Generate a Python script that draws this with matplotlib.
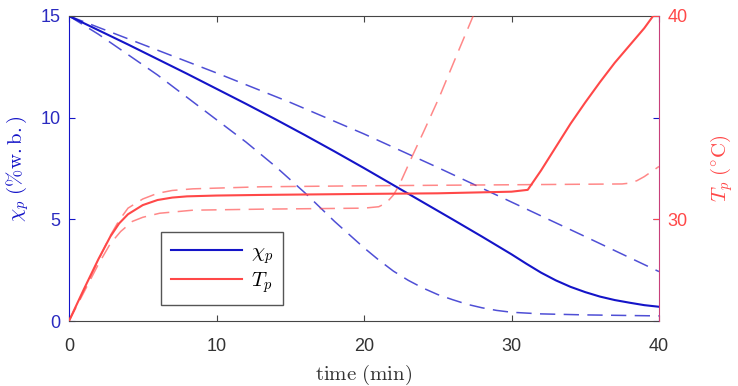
import numpy as np
import matplotlib
matplotlib.use("Agg")
import matplotlib.pyplot as plt

plt.rcParams['font.family'] = ['Liberation Sans', 'DejaVu Sans']
plt.rcParams['mathtext.fontset'] = 'cm'

# moisture content chi_p (% w.b.), left axis
t_chi = [0, 2, 4, 6, 8, 10, 12, 14, 16, 18, 20, 22, 24, 26, 28, 30,
         31, 32, 33, 34, 35, 36, 37, 38, 39, 40]
chi = [15, 14.3, 13.6, 12.88, 12.16, 11.42, 10.68, 9.92, 9.14, 8.34, 7.52,
       6.68, 5.84, 5.0, 4.15, 3.28, 2.82, 2.38, 2.0, 1.68, 1.42, 1.2, 1.03,
       0.9, 0.78, 0.7]

t_chi_hi = [0, 5, 10, 15, 20, 25, 30, 35, 40]
chi_hi = [15, 13.6, 12.2, 10.75, 9.2, 7.55, 5.85, 4.15, 2.43]

t_chi_lo = [0, 2, 4, 6, 8, 10, 12, 14, 16, 18, 20, 21, 22, 23, 24, 25,
            26, 27, 28, 29, 30, 32, 35, 40]
chi_lo = [15, 14.1, 13.1, 12.1, 11.0, 9.9, 8.8, 7.6, 6.3, 4.9, 3.6, 3.0,
          2.45, 2.0, 1.62, 1.3, 1.05, 0.82, 0.65, 0.52, 0.43, 0.35, 0.3,
          0.25]

# product temperature T_p (degC), right axis
t_T = [0, 1, 2, 2.8, 3.4, 4, 5, 6, 7, 8, 10, 13, 20, 25, 30, 31.1, 32,
       33, 34, 35, 36, 37, 38, 39, 39.6]
T = [25, 26.55, 28.05, 29.15, 29.8, 30.25, 30.7, 30.95, 31.07, 31.13,
     31.17, 31.2, 31.25, 31.28, 31.36, 31.45, 32.4, 33.55, 34.7, 35.75,
     36.75, 37.7, 38.55, 39.4, 40]

t_T_hi = [0, 1, 2, 2.8, 3.4, 4, 5, 6, 7, 8.4, 13, 20, 30, 37.5, 38,
          38.5, 39, 39.5, 40]
T_hi = [25, 26.5, 28.0, 29.2, 29.95, 30.55, 31.0, 31.28, 31.42, 31.5,
        31.6, 31.65, 31.7, 31.74, 31.78, 31.9, 32.1, 32.35, 32.6]

t_T_lo = [0, 1, 2, 2.8, 3.5, 4.3, 5, 6.15, 8.4, 13, 20, 21, 21.5, 22,
          22.4, 23.3, 24.1, 25.1, 26.3, 27.4]
T_lo = [25, 26.4, 27.8, 28.8, 29.4, 29.9, 30.1, 30.3, 30.45, 30.5, 30.55,
        30.62, 30.8, 31.2, 31.7, 33.15, 34.4, 36.0, 38.1, 40]

BLUE = '#1414c8'
RED = '#ff4848'
GRAY = '#454545'
dash = (10, 5.5)

fig = plt.figure(figsize=(7.38, 3.86), dpi=100)
ax1 = fig.add_axes([69 / 738, 65 / 386, 590 / 738, 305 / 386])
ax2 = ax1.twinx()

l1, = ax1.plot(t_chi, chi, color=BLUE, lw=1.5)
ax1.plot(t_chi_hi, chi_hi, color=BLUE, lw=1.1, alpha=0.75, dashes=dash)
ax1.plot(t_chi_lo, chi_lo, color=BLUE, lw=1.1, alpha=0.75, dashes=dash)

l2, = ax2.plot(t_T, T, color=RED, lw=1.5)
ax2.plot(t_T_hi, T_hi, color=RED, lw=1.1, alpha=0.65, dashes=dash)
ax2.plot(t_T_lo, T_lo, color=RED, lw=1.1, alpha=0.65, dashes=dash)

ax1.set_xlim(0, 40)
ax1.set_ylim(0, 15)
ax2.set_ylim(25, 40)
ax1.set_xticks([0, 10, 20, 30, 40])
ax1.set_yticks([0, 5, 10, 15])
ax2.set_yticks([30, 40])

ax1.tick_params(axis='x', direction='in', top=True, length=4, color=GRAY,
                labelcolor='#333333', labelsize=13, pad=12)
ax1.tick_params(axis='y', direction='in', right=True, length=4, color=BLUE,
                labelcolor='#2a2ac0', labelsize=13, pad=6)
ax2.tick_params(axis='y', direction='in', length=4, color=RED,
                labelcolor=RED, labelsize=13, pad=6)

for s in ['top', 'bottom']:
    ax1.spines[s].set_color(GRAY)
ax1.spines['left'].set_color(BLUE)
ax1.spines['right'].set_visible(False)
for s in ['top', 'bottom', 'left']:
    ax2.spines[s].set_visible(False)
ax2.spines['right'].set_color('#c8407a')

ax1.set_xlabel(r'$\mathrm{time\ (min)}$', fontsize=15, color='#333333',
               labelpad=6)
ax1.set_ylabel(r'$\chi_p\ (\%\mathrm{w.b.})$', fontsize=15, color=BLUE,
               labelpad=7)
ax2.set_ylabel(r'$T_p\ ({}^{\circ}\mathrm{C})$', fontsize=15, color=RED,
               labelpad=15)

leg = ax2.legend([l1, l2], [r'$\chi_p$', r'$T_p$'], loc='lower left',
                 bbox_to_anchor=(0.156, 0.052), borderaxespad=0,
                 fontsize=15, fancybox=False, edgecolor='#555555',
                 framealpha=1, handlelength=3.4, labelspacing=0.2,
                 handletextpad=0.4, borderpad=0.5)
leg.get_frame().set_linewidth(1.0)

fig.savefig('out.png', dpi=100)
